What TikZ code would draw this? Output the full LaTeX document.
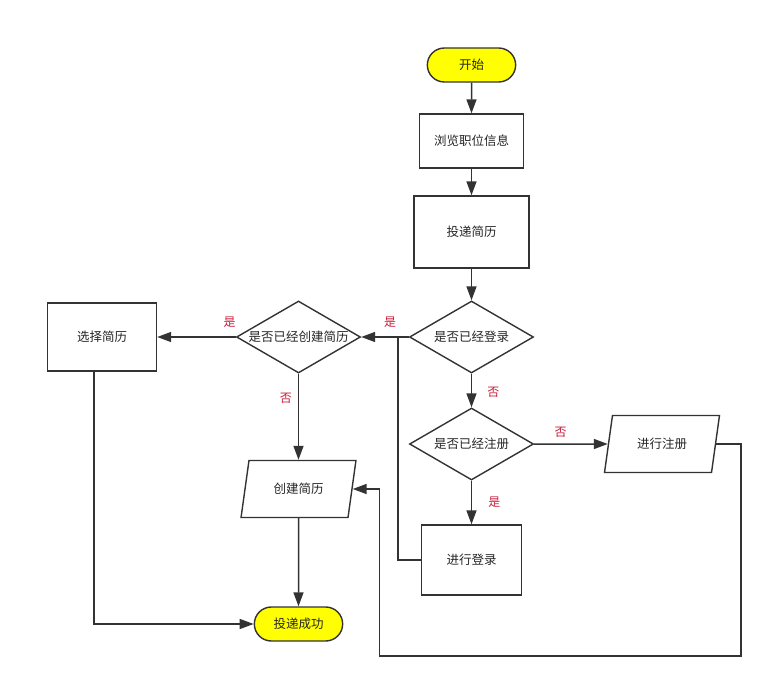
\documentclass[tikz,border=0pt]{standalone}
\usepackage{fontspec}
\setmainfont{Noto Sans CJK SC}
\usetikzlibrary{shapes,arrows.meta,positioning}
\definecolor{linegray}{RGB}{51,51,51}
\definecolor{termyellow}{RGB}{255,255,0}
\definecolor{labelred}{RGB}{200,30,60}

\begin{document}
\begin{tikzpicture}[x=1pt, y=-1pt,
    box/.style={rectangle, draw=linegray, line width=1.4pt, fill=white, text=black!85, font=\fontsize{12.5}{15}\selectfont},
    terminal/.style={box, rounded rectangle, fill=termyellow, minimum width=95pt, minimum height=34pt},
    decision/.style={box, diamond, inner sep=0pt, minimum width=124pt, minimum height=72pt},
    iobox/.style={box, trapezium, trapezium left angle=76, trapezium right angle=104, trapezium stretches=true, minimum width=115pt, minimum height=57pt},
    line/.style={draw=linegray, line width=1.5pt},
    arrow/.style={line, -{Triangle[length=14pt, width=10pt]}},
    lab/.style={text=labelred, font=\fontsize{12}{14}\selectfont, inner sep=1pt}
]
\useasboundingbox (0,0) rectangle (772,686);

% Main column
\node[terminal] (start) at (471.5,65) {开始};
\node[box, minimum width=104pt, minimum height=54pt] (browse) at (471.5,141) {浏览职位信息};
\node[box, minimum width=115pt, minimum height=72pt] (submit) at (471.5,232) {投递简历};
\node[decision] (login) at (471.5,337) {\makebox[0pt]{是否已经登录}};
\node[decision] (register) at (471.5,444) {\makebox[0pt]{是否已经注册}};
\node[box, minimum width=100pt, minimum height=70pt] (dologin) at (471.5,560) {进行登录};
\node[iobox] (doreg) at (662,444) {进行注册};

% Left part
\node[decision] (created) at (298.5,337) {\makebox[0pt]{是否已经创建简历}};
\node[box, minimum width=109pt, minimum height=68pt] (select) at (102,337) {选择简历};
\node[iobox] (create) at (298.5,489) {创建简历};
\node[terminal] (done) at (298.5,624) {投递成功};

% Connectors
\draw[arrow] (start) -- (browse);
\draw[arrow] (browse) -- (submit);
\draw[arrow] (submit) -- (login);
\draw[arrow] (login) -- node[lab, pos=0.39, above=8pt] {是} (created);
\draw[arrow] (created) -- node[lab, pos=0.08, above=8pt] {是} (select);
\draw[arrow] (created) -- node[lab, pos=0.28, left=5pt] {否} (create);
\draw[arrow] (login) -- node[lab, pos=0.55, right=14pt] {否} (register);
\draw[arrow] (register) -- node[lab, pos=0.36, above=5pt] {否} (doreg);
\draw[arrow] (register) -- node[lab, pos=0.49, right=15pt] {是} (dologin);

% Back to the main line
\coordinate (join) at (398,337);
\draw[line] (dologin.west) -| (join);
\draw[arrow] (doreg.east) -- ++(25,0) -- ++(0,212) -| ([xshift=27pt]create.east) -- (create.east);
\draw[arrow] ([xshift=-8pt]select.south) |- (done.west);
\draw[arrow] (create) -- (done);

\end{tikzpicture}
\end{document}
